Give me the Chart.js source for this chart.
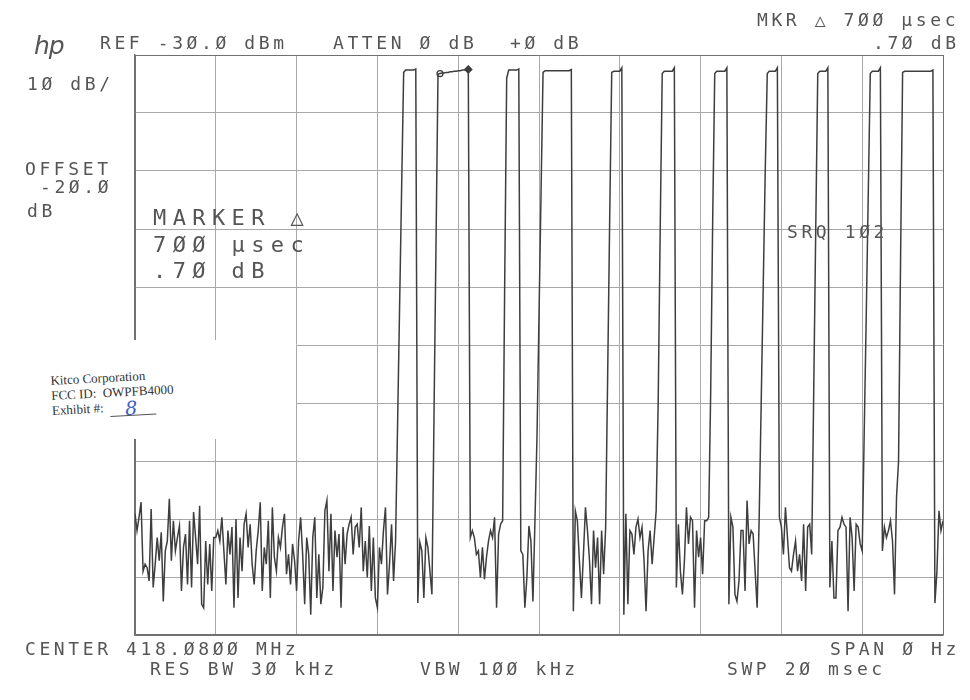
<!DOCTYPE html>
<html>
<head>
<meta charset="utf-8">
<script src="https://cdn.jsdelivr.net/npm/chart.js@4/dist/chart.umd.min.js"></script>
<style>
  html, body { margin: 0; padding: 0; background: #fff; }
  #wrap { position: relative; width: 970px; height: 700px; overflow: hidden; background: #fff; }
  #wrap canvas { position: absolute; left: 0; top: 0; }
  .t { position: absolute; font-family: 'DejaVu Sans Mono', monospace; font-size: 18px; letter-spacing: 3.6px;
       color: #555; white-space: pre; line-height: 18px; }
  .big { font-size: 22px; letter-spacing: 6.4px; line-height: 22px; }
  .hp { position: absolute; left: 34px; top: 33px; font-family: 'DejaVu Sans', sans-serif; font-style: italic;
        font-weight: 200; font-size: 25px; color: #555; letter-spacing: -1px; line-height: 25px; }
  #patch { position: absolute; left: 0; top: 340px; width: 296px; height: 99px; background: #fff; }
  #label { position: absolute; left: 50px; top: 373px; font-family: 'Liberation Serif', serif; font-size: 13px;
           color: #333; line-height: 15px; white-space: pre; transform: rotate(-3deg); transform-origin: left top; }
  #label .ex { display: inline-block; width: 46px; height: 6px; border-bottom: 1px solid #555; position: relative;
               vertical-align: -5px; }
  #label .eight { position: absolute; left: 15px; bottom: -3px; font-family: 'DejaVu Serif', serif; font-style: italic;
                  font-size: 19px; line-height: 19px; color: #3f5fc0; }
</style>
</head>
<body>
<div id="wrap">
  <canvas id="c" width="970" height="700"></canvas>
  <div id="patch"></div>
  <div id="label">Kitco Corporation
FCC ID:  OWPFB4000
Exhibit #:  <span class="ex"><span class="eight">8</span></span></div>

  <div class="hp">hp</div>
  <div class="t" style="left:757px;top:11px">MKR △ 7ØØ µsec</div>
  <div class="t" style="left:100px;top:34px">REF -3Ø.Ø dBm</div>
  <div class="t" style="left:333px;top:34px">ATTEN Ø dB</div>
  <div class="t" style="left:510px;top:34px">+Ø dB</div>
  <div class="t" style="left:873px;top:34px">.7Ø dB</div>
  <div class="t" style="left:27px;top:75px">1Ø dB/</div>
  <div class="t" style="left:25px;top:160px">OFFSET</div>
  <div class="t" style="left:40px;top:178px">-2Ø.Ø</div>
  <div class="t" style="left:27px;top:202px">dB</div>
  <div class="t big" style="left:153px;top:207px">MARKER △</div>
  <div class="t big" style="left:153px;top:234px">7ØØ µsec</div>
  <div class="t big" style="left:153px;top:260px">.7Ø dB</div>
  <div class="t" style="left:787px;top:223px">SRQ 1Ø2</div>
  <div class="t" style="left:25px;top:640px">CENTER 418.Ø8ØØ MHz</div>
  <div class="t" style="left:830px;top:640px">SPAN Ø Hz</div>
  <div class="t" style="left:150px;top:660px">RES BW 3Ø kHz</div>
  <div class="t" style="left:420px;top:660px">VBW 1ØØ kHz</div>
  <div class="t" style="left:727px;top:660px">SWP 2Ø msec</div>
</div>
<script>
// zero span sweep, 401 trace points over 20 ms
const sweepMs = 20;
const refLevelDbm = -30;
const dbPerDiv = 10;

// trace amplitude (dBm)
const traceDbm = [
  // noise floor before first burst
  -109.1,-112.0,-109.7,-107.1,-119.0,-117.8,-118.4,-120.7,-108.3,-121.8,
  -117.8,-113.2,-117.2,-112.3,-124.2,-115.5,-113.8,-106.5,-117.2,-110.3,
  -115.5,-113.2,-111.2,-122.4,-114.9,-112.6,-121.3,-110.3,-121.8,-108.8,
  -113.2,-117.8,-107.7,-124.7,-125.3,-113.8,-121.3,-114.3,-122.4,-113.2,
  -113.2,-112.0,-113.8,-109.7,-115.5,-121.3,-112.0,-116.1,-111.4,-125.3,
  -110.0,-123.6,-113.2,-119.0,-110.9,-109.1,-114.9,-110.9,-117.8,-121.3,
  -115.5,-112.0,-107.1,-122.4,-114.9,-117.8,-110.3,-123.6,-108.0,-116.6,
  -119.0,-113.2,-114.9,-111.4,-109.1,-119.5,-116.1,-121.3,-114.3,-117.2,
  -122.4,-113.8,-109.7,-116.1,-124.7,-113.2,-116.1,-126.5,-113.2,-109.7,
  -123.6,-116.1,-124.7,-121.8,-108.6,-106.8,-119.0,-109.1,-122.4,-112.0,
  -116.6,-112.6,-125.3,-111.4,-117.8,-112.6,-110.9,-109.7,-116.1,-111.4,
  -110.9,-114.9,-108.0,-119.0,-113.8,-120.1,-111.2,-122.4,-113.2,-123.6,
  -125.3,-114.9,-117.8,-112.0,-108.0,-123.0,-117.8,-110.9,-120.7,-113.8,
  // burst 1
  -93.5,-73.2,-52.9,
  -33.0,-32.6,-32.6,-32.6,-32.6,-32.6,-32.4,
  -124.5,-114.0,-115.5,-123.6,-113.2,-114.9,-119.0,-123.0,
  // burst 2 (markers)
  -93.0,-63.0,
  -33.3,-33.2,-33.1,-33.1,-33.0,-33.0,-32.9,-32.9,-32.8,-32.8,-32.7,-32.7,-32.6,-32.6,-32.5,-32.5,
  -113.2,-112.0,-113.2,-116.1,-115.5,-120.1,-114.9,-120.4,-116.6,-113.8,-112.0,-113.2,-109.7,-125.3,-112.6,-110.9,-110.3,
  // burst 3
  -70.0,
  -34.0,-32.6,-32.6,-32.6,-32.6,-32.6,-32.4,
  -115.5,-116.1,-125.3,-120.1,-111.2,-113.8,-124.2,-110.3,
  // burst 4
  -96.0,-75.0,-54.0,
  -33.0,-32.7,-32.7,-32.7,-32.7,-32.7,-32.7,-32.7,-32.7,-32.7,-32.7,-32.7,-32.7,-32.7,-32.5,
  -125.9,-108.6,-110.3,-117.2,-123.6,-116.1,-108.0,-112.0,-117.2,-124.7,-112.0,-118.4,-113.2,-124.7,-112.0,-119.5,-111.4,
  // burst 5
  -85.0,-58.0,
  -33.0,-32.8,-32.8,-32.8,-32.8,-32.2,
  -126.5,-109.1,-124.7,-112.0,-112.6,-116.1,-111.4,-110.0,-113.2,-111.4,-117.2,-125.9,-115.5,-112.0,-117.8,-113.2,-108.6,
  // burst 6
  -90.0,-60.0,
  -33.2,-32.8,-32.8,-32.8,-32.8,-32.8,-32.2,
  -121.8,-110.9,-119.0,-123.0,-117.2,-108.0,-114.3,-109.7,-110.3,-125.3,-112.0,-116.6,-113.2,-119.5,-110.3,-110.3,-109.7,
  // burst 7
  -88.0,-58.0,
  -33.2,-32.8,-32.8,-32.8,-32.8,-32.8,-32.2,
  -124.7,-109.7,-111.4,-123.0,-124.2,-120.7,-112.0,-112.0,-122.4,-106.8,-114.3,-112.0,-112.6,-119.0,-125.3,-109.7,
  // burst 8
  -90.0,-70.0,-50.0,
  -33.2,-32.8,-32.8,-32.8,-32.8,-32.2,
  -109.7,-111.4,-116.1,-108.0,-113.2,-118.4,-119.0,-116.1,-113.8,-119.0,-116.1,-120.7,-110.9,-122.4,-111.4,-110.9,-116.1,
  // burst 9
  -88.0,-60.0,
  -33.2,-32.8,-32.8,-32.8,-32.8,-32.2,
  -121.8,-113.8,-123.6,-123.6,-112.0,-111.4,-109.7,-110.9,-111.4,-125.9,-109.7,-113.2,-122.4,-110.9,-111.4,-114.3,-115.5,
  // burst 10
  -95.0,-75.0,-54.0,
  -33.2,-32.8,-32.8,-32.8,-32.8,-32.2,
  -115.5,-111.4,-113.2,-112.0,-110.3,-113.8,-123.0,-106.2,
  // burst 11
  -100.0,-65.0,
  -33.0,-32.8,-32.8,-32.8,-32.8,-32.8,-32.8,-32.8,-32.8,-32.8,-32.8,-32.8,-32.8,-32.8,-32.8,-32.6,
  -124.5,-119.0,-108.6,-112.0,-110.3
];

// delta marker pair (700 usec, .70 dB)
const markerTimesMs = [7.55, 8.25];
const markerLevelsDbm = [-33.2, -32.5];

const tracePts = traceDbm.map((v, i) => ({ x: i * sweepMs / (traceDbm.length - 1), y: v }));
const markerPts = markerTimesMs.map((t, i) => ({ x: t, y: markerLevelsDbm[i] }));

const yMin = refLevelDbm - 10 * dbPerDiv;
const edgeColor = (lo, hi) => c => (c.tick && (c.tick.value === lo || c.tick.value === hi)) ? '#707070' : '#a8a8a8';

const ctx = document.getElementById('c').getContext('2d');
new Chart(ctx, {
    type: 'line',
    data: {
        datasets: [
            {
                data: tracePts,
                borderColor: '#3e3e3e',
                borderWidth: 1.5,
                pointRadius: 0,
                tension: 0
            },
            {
                data: markerPts,
                showLine: false,
                pointStyle: ['circle', 'rectRot'],
                pointRadius: [3, 3.5],
                pointBackgroundColor: ['#fff', '#3e3e3e'],
                pointBorderColor: '#3e3e3e',
                pointBorderWidth: 1.3
            }
        ]
    },
    options: {
        responsive: false,
        animation: false,
        devicePixelRatio: 1,
        layout: { padding: { left: 135, top: 55, right: 27, bottom: 65 } },
        plugins: {
            legend: { display: false },
            tooltip: { enabled: false }
        },
        scales: {
            x: {
                type: 'linear',
                min: 0,
                max: sweepMs,
                ticks: { display: false, stepSize: 2 },
                grid: { color: edgeColor(0, sweepMs), lineWidth: 1, drawTicks: false },
                border: { color: '#707070', width: 1.5 }
            },
            y: {
                min: yMin,
                max: refLevelDbm,
                ticks: { display: false, stepSize: dbPerDiv },
                grid: { color: edgeColor(yMin, refLevelDbm), lineWidth: 1, drawTicks: false },
                border: { color: '#707070', width: 1.5 }
            }
        }
    }
});
</script>
</body>
</html>
